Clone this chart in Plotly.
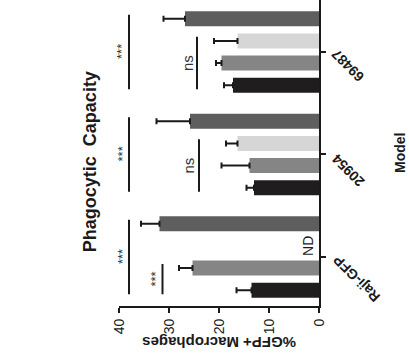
import plotly.graph_objects as go

# ---- data ----
categories = ["Raji-GFP", "20954", "69487"]
series_names = ["Group 1", "Group 2", "Group 3", "Group 4"]
black_vals = [13.5, 13.0, 17.2]
black_err = [3.0, 1.5, 1.8]
gray_vals = [25.3, 13.9, 19.5]
gray_err = [2.7, 5.6, 1.1]
light_vals = [None, 16.3, 16.3]
light_err = [0, 2.3, 4.7]
dark_vals = [31.9, 25.8, 26.8]
dark_err = [3.7, 6.7, 4.3]
value_ticks = [0, 10, 20, 30, 40]
# significance: (category index, first bar, last bar, value, label)
sig_lines = [
    (0, 0, 3, 38.0, "***"),
    (0, 0, 1, 31.3, "***"),
    (1, 0, 3, 38.0, "***"),
    (1, 0, 2, 24.0, "ns"),
    (2, 0, 3, 38.0, "***"),
    (2, 0, 2, 24.4, "ns"),
]

FONT = "Liberation Sans, Arial, sans-serif"
INK = "#1a1a1a"
colors = ["#1f1d1e", "#858585", "#d6d6d6", "#5e5e5e"]
vals = [black_vals, gray_vals, light_vals, dark_vals]
errs = [black_err, gray_err, light_err, dark_err]

fig = go.Figure()
for name, v, e, c in zip(series_names, vals, errs, colors):
    fig.add_trace(go.Bar(
        y=list(range(len(categories))), x=v, orientation="h", name=name,
        marker=dict(color=c, line=dict(width=0)),
        error_x=dict(type="data", symmetric=False, array=e,
                     arrayminus=[0] * len(e), color=INK,
                     thickness=2, width=3),
        showlegend=False, hoverinfo="skip",
    ))

bargap = 0.137
slot = (1 - bargap) / 4


def bar_pos(cat, k):
    return cat + (k - 1.5) * slot


shapes = []
annotations = []
C = dict(xanchor="center", yanchor="middle", showarrow=False)
for cat, k0, k1, val, lab in sig_lines:
    y0 = bar_pos(cat, k0) - 0.04
    y1 = bar_pos(cat, k1) + 0.04
    shapes.append(dict(type="line", xref="x", yref="y", x0=val, x1=val,
                       y0=y0, y1=y1, line=dict(color=INK, width=2)))
    is_star = lab == "***"
    annotations.append(dict(
        x=val, y=(y0 + y1) / 2, xref="x", yref="y", text=lab,
        textangle=-90, xshift=(-7 if is_star else -10), **C,
        font=dict(family=FONT, size=(13 if is_star else 15), color="#333333")))

# ND label on the missing bar
annotations.append(dict(x=0, y=bar_pos(0, 2), xref="x", yref="y", text="ND",
                        textangle=-90, xshift=-11, **C,
                        font=dict(family=FONT, size=14, color=INK)))

# category labels
cat_shift = [(38, -22), (30, -16), (29, -14)]
for i, (name, (dx, dy)) in enumerate(zip(categories, cat_shift)):
    annotations.append(dict(x=0, y=i, xref="x", yref="y", text="<b>%s</b>" % name,
                            textangle=-135, xshift=dx, yshift=dy, **C,
                            font=dict(family=FONT, size=14, color=INK)))

annotations += [
    dict(x=-0.145, y=0.47, xref="paper", yref="paper", text="<b>Phagocytic  Capacity</b>",
         textangle=-90, **C, font=dict(family=FONT, size=18, color=INK)),
    dict(x=0.5, y=-0.121, xref="paper", yref="paper", text="<b>%GFP+ Macrophages</b>",
         textangle=180, **C, font=dict(family=FONT, size=15, color=INK)),
    dict(x=1.405, y=0.5, xref="paper", yref="paper", text="<b>Model</b>",
         textangle=-90, **C, font=dict(family=FONT, size=14, color=INK)),
]

fig.update_layout(
    width=409, height=356,
    margin=dict(l=119, r=90, t=0, b=50, pad=0),
    paper_bgcolor="white", plot_bgcolor="white",
    barmode="group", bargap=bargap, bargroupgap=0.32,
    xaxis=dict(range=[40, 0], tickvals=value_ticks, ticks="outside", ticklen=5,
               tickwidth=2, tickcolor=INK, showline=True, linewidth=2,
               linecolor=INK, showgrid=False, zeroline=False, tickangle=-90,
               automargin=False,
               tickfont=dict(family=FONT, size=14, color=INK),
               tickprefix="<b>", ticksuffix="</b>"),
    yaxis=dict(range=[-0.478, 2.507], side="right", tickvals=[0, 1, 2],
               showticklabels=False, ticks="outside", ticklen=5, tickwidth=2,
               tickcolor=INK, showline=True, linewidth=2, automargin=False,
               linecolor=INK, showgrid=False, zeroline=False),
    shapes=shapes, annotations=annotations,
)

fig.write_html("out.html", config={"displayModeBar": False},
               post_script="document.body.style.margin='0';document.body.style.padding='0';")
